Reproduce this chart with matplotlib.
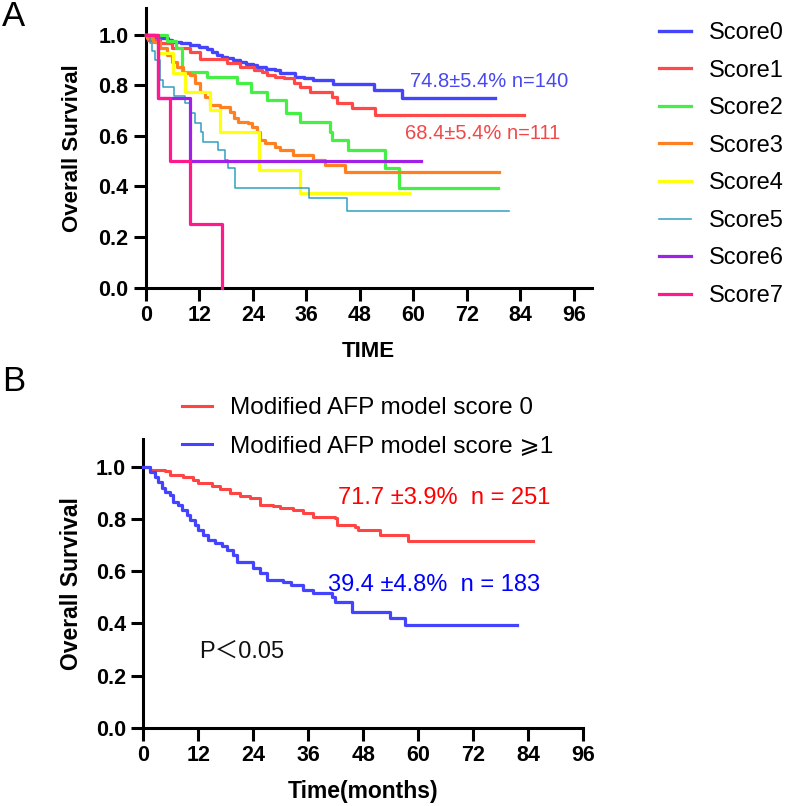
import matplotlib
matplotlib.use("Agg")
import matplotlib.pyplot as plt
from matplotlib.lines import Line2D

plt.rcParams['font.family'] = ['Liberation Sans', 'DejaVu Sans', 'Noto Sans CJK SC']

# ---- panel A: survival by score (event times in months, survival after event, last follow-up)
score_names = ["Score0", "Score1", "Score2", "Score3", "Score4", "Score5", "Score6", "Score7"]

s0_t = [0, 2.0, 3.2, 5.0, 6.0, 8.0, 10.0, 12.0, 13.7, 14.8, 16.0, 17.0, 18.2, 19.5, 21.2, 22.5,
        24.0, 25.0, 27.0, 29.0, 30.2, 33.5, 35.5, 37.6, 42.1, 51.1, 57.5]
s0_s = [1.0, 0.993, 0.987, 0.980, 0.974, 0.967, 0.960, 0.953, 0.946, 0.933, 0.920, 0.914, 0.907, 0.900,
        0.894, 0.887, 0.880, 0.873, 0.867, 0.861, 0.848, 0.835, 0.829, 0.822, 0.806, 0.782, 0.749]
s0_end = 78.3

s1_t = [0, 0.5, 3.2, 6.0, 10.0, 12.2, 18.2, 21.2, 24.2, 26.0, 27.2, 29.0, 30.9, 33.2, 34.7, 36.9,
        41.8, 42.9, 46.2, 51.5]
s1_s = [1.0, 0.98, 0.967, 0.947, 0.934, 0.905, 0.888, 0.875, 0.862, 0.855, 0.842, 0.835, 0.828, 0.809,
        0.795, 0.776, 0.756, 0.730, 0.712, 0.684]
s1_end = 84.9

s2_t = [0, 4.7, 6.9, 8.1, 13.7, 20.5, 23.5, 27.2, 31.5, 34.7, 41.4, 41.8, 45.4, 53.7, 56.7]
s2_s = [1.0, 0.975, 0.947, 0.855, 0.835, 0.809, 0.776, 0.743, 0.690, 0.657, 0.617, 0.584, 0.545, 0.472, 0.393]
s2_end = 78.9

s3_t = [0, 0.2, 1.7, 3.2, 4.7, 5.8, 7.0, 8.4, 9.9, 11.1, 12.2, 13.3, 14.4, 16.7, 18.9, 19.7, 20.8,
        23.0, 23.8, 24.9, 25.7, 26.8, 29.0, 30.2, 33.1, 37.6, 40.2, 44.7]
s3_s = [1.0, 0.987, 0.974, 0.947, 0.921, 0.894, 0.875, 0.848, 0.842, 0.809, 0.776, 0.756, 0.723, 0.716,
        0.696, 0.670, 0.657, 0.650, 0.637, 0.617, 0.584, 0.571, 0.558, 0.545, 0.525, 0.505, 0.485, 0.456]
s3_end = 79.2

s4_t = [0, 2.8, 6.2, 8.8, 14.4, 16.7, 25.3, 34.7]
s4_s = [1.0, 0.927, 0.848, 0.776, 0.703, 0.617, 0.465, 0.373]
s4_end = 59.1

s5_t = [0, 1.0, 1.3, 2.1, 3.1, 3.9, 6.4, 8.8, 9.9, 11.1, 12.4, 12.9, 16.3, 17.8, 18.5, 20.0, 36.7, 45.1]
s5_s = [1.0, 0.967, 0.935, 0.90, 0.822, 0.795, 0.760, 0.730, 0.690, 0.650, 0.617, 0.577, 0.545, 0.505,
        0.472, 0.393, 0.353, 0.303]
s5_end = 81.4

s6_t = [0, 2.8, 9.95]
s6_s = [1.0, 0.75, 0.50]
s6_end = 61.7

s7_t = [0, 2.8, 5.5, 9.95, 17.05]
s7_s = [1.0, 0.75, 0.50, 0.25, 0.0]
s7_end = 17.05

score_colors = ['#4444FA', '#FF4848', '#44F044', '#FF8020', '#FFFF10', '#30A0C0', '#A020E8', '#FF1A8C']
score_widths = [2.4, 2.3, 2.3, 2.3, 2.3, 1.1, 2.3, 2.3]

# ---- panel B: modified AFP model score 0 vs >=1
b0_t = [0, 1.46, 4.7, 5.8, 8.7, 10.9, 12.0, 14.9, 16.7, 18.9, 21.1, 23.3, 25.5, 28.4, 29.8, 32.7,
        34.9, 37.1, 41.8, 42.2, 46.2, 46.9, 51.6, 57.8]
b0_s = [1.0, 0.987, 0.983, 0.968, 0.962, 0.949, 0.936, 0.927, 0.915, 0.898, 0.889, 0.879, 0.853, 0.851,
        0.843, 0.834, 0.821, 0.808, 0.802, 0.777, 0.770, 0.757, 0.738, 0.717]
b0_end = 85.0

b1_t = [0, 1.46, 2.55, 3.3, 4.0, 4.7, 5.8, 6.5, 7.6, 8.4, 9.5, 10.2, 11.3, 12.0, 13.1, 14.2, 15.6,
        17.1, 18.2, 19.6, 20.4, 24.0, 25.5, 26.9, 30.5, 32.3, 34.9, 37.1, 41.1, 41.8, 45.5, 53.8, 57.1]
b1_s = [1.0, 0.981, 0.962, 0.943, 0.917, 0.904, 0.892, 0.866, 0.853, 0.834, 0.815, 0.796, 0.777, 0.757,
        0.738, 0.719, 0.707, 0.697, 0.681, 0.662, 0.636, 0.611, 0.592, 0.566, 0.559, 0.547, 0.528, 0.515,
        0.502, 0.483, 0.444, 0.419, 0.394]
b1_end = 81.5

b_names = ["Modified AFP model score 0", "Modified AFP model score \u2a7e1"]
b_colors = ['#FF4444', '#4444FF']

x_ticks = [0, 12, 24, 36, 48, 60, 72, 84, 96]
y_ticks = [0.0, 0.2, 0.4, 0.6, 0.8, 1.0]


def km(ax, t, s, end, color, lw):
    ax.step(t + [end], s + [s[-1]], where='post', color=color, lw=lw, clip_on=False, zorder=3)


def style(ax, xmax, ymax):
    ax.set_xlim(0, xmax)
    ax.set_ylim(0, ymax)
    for side in ['top', 'right']:
        ax.spines[side].set_visible(False)
    for side in ['left', 'bottom']:
        ax.spines[side].set_linewidth(2.2)
    ax.set_xticks(x_ticks)
    ax.set_yticks(y_ticks)
    ax.set_yticklabels(['%.1f' % v for v in y_ticks])
    ax.tick_params(direction='out', length=9, width=2.2, labelsize=15.5, pad=3.5)
    for lab in ax.get_xticklabels() + ax.get_yticklabels():
        lab.set_fontweight('bold')


fig = plt.figure(figsize=(7.86, 8.06), dpi=100)

# panel A
axA = fig.add_axes([0.1854, 0.6433, 0.5674, 0.3468])
curves = [(s0_t, s0_s, s0_end), (s1_t, s1_s, s1_end), (s2_t, s2_s, s2_end), (s3_t, s3_s, s3_end),
          (s4_t, s4_s, s4_end), (s5_t, s5_s, s5_end), (s6_t, s6_s, s6_end), (s7_t, s7_s, s7_end)]
for (t, s, e), c, w in zip(curves, score_colors, score_widths):
    km(axA, t, s, e, c, w)
style(axA, 100, 1.107)
axA.set_ylabel('Overall Survival', fontsize=16, fontweight='bold')
axA.yaxis.set_label_coords(-0.1637, 0.5)
axA.yaxis.label.set_va('center')
axA.set_xlabel('TIME', fontsize=16, fontweight='bold')
axA.xaxis.set_label_coords(0.5, -0.229)
axA.xaxis.label.set_va('center')
axA.text(59.3, 0.814, '74.8\u00b15.4% n=140', color='#4848F0', fontsize=14.5, va='center')
axA.text(58.2, 0.61, '68.4\u00b15.4% n=111', color='#F04848', fontsize=14.5, va='center')

handlesA = [Line2D([], [], color=c, lw=w) for c, w in zip(score_colors, score_widths)]
fig.legend(handlesA, score_names, loc='upper left', bbox_to_anchor=(659 / 786, 1 - 22 / 806),
           frameon=False, fontsize=17, handlelength=1.35, handletextpad=0.75,
           labelspacing=0.66, borderpad=0, borderaxespad=0)

fig.text(2 / 786, 1 - 17 / 806, 'A', fontsize=25, va='center', ha='left')
fig.text(2 / 786, 1 - 381 / 806, 'B', fontsize=25, va='center', ha='left')

# panel B
axB = fig.add_axes([0.1823, 0.0971, 0.5598, 0.3582])
km(axB, b0_t, b0_s, b0_end, b_colors[0], 2.2)
km(axB, b1_t, b1_s, b1_end, b_colors[1], 2.3)
style(axB, 96, 1.106)
axB.set_ylabel('Overall Survival', fontsize=16.5, fontweight='bold')
axB.yaxis.set_label_coords(-0.1627, 0.5)
axB.yaxis.label.set_va('center')
axB.set_xlabel('Time(months)', fontsize=16.5, fontweight='bold')
axB.xaxis.set_label_coords(0.5, -0.2217)
axB.xaxis.label.set_va('center')
axB.text(42.5, 0.880, '71.7 \u00b13.9%  n = 251', color='#FF0000', fontsize=17, va='center')
axB.text(40.3, 0.547, '39.4 \u00b14.8%  n = 183', color='#0000FF', fontsize=17, va='center')
axB.text(12.2, 0.293, 'P\uff1c0.05', color='#111111', fontsize=17, va='center')

handlesB = [Line2D([], [], color=c, lw=2.2) for c in b_colors]
fig.legend(handlesB, b_names, loc='upper left', bbox_to_anchor=(182 / 786, 1 - 397 / 806),
           frameon=False, fontsize=17.5, handlelength=1.23, handletextpad=0.74,
           labelspacing=0.66, borderpad=0, borderaxespad=0)

fig.savefig('out.png', dpi=100)
